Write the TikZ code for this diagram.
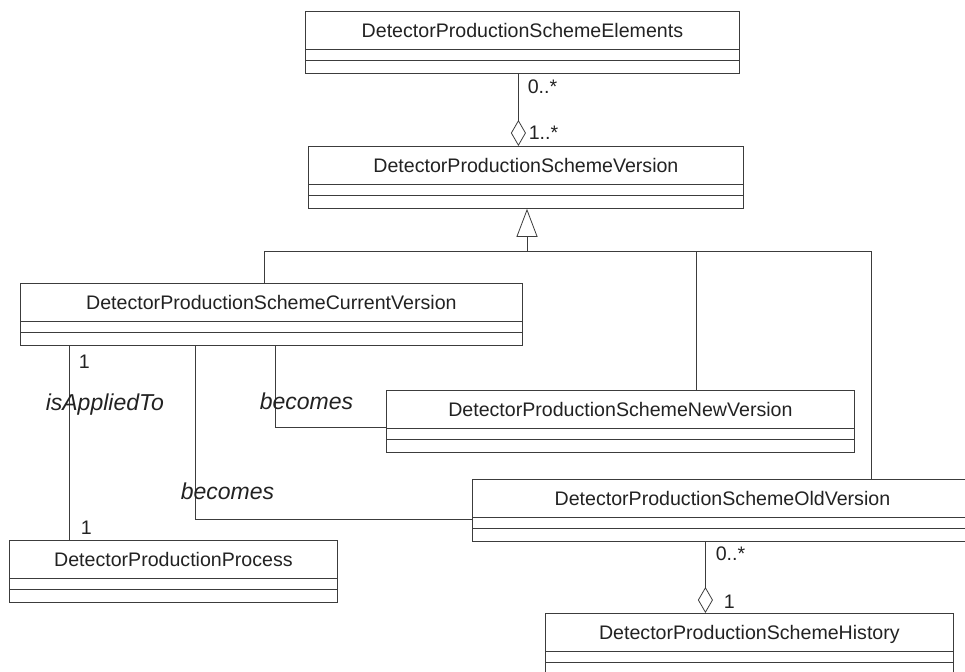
\documentclass[tikz,border=0pt]{standalone}
\usepackage{fontspec}
\newfontfamily\umlfont{Liberation Sans}
\usetikzlibrary{arrows.meta}
\definecolor{linec}{HTML}{3C3C3C}
\definecolor{textc}{HTML}{222222}

\begin{document}
\begin{tikzpicture}[x=1pt, y=-1pt,
  cls/.style={draw=linec, line width=0.8pt, inner sep=0pt, anchor=north west,
    text height=26pt, text depth=36pt, text=textc,
    font=\umlfont\fontsize{19.6}{24}\selectfont,
    path picture={\draw[linec, line width=0.8pt]
      ([yshift=-38pt]path picture bounding box.north west) -- ([yshift=-38pt]path picture bounding box.north east)
      ([yshift=-49pt]path picture bounding box.north west) -- ([yshift=-49pt]path picture bounding box.north east);}},
  conn/.style={draw=linec, line width=0.8pt},
  agg/.style={conn, -{Diamond[open, length=26pt, width=15pt]}},
  gen/.style={conn, -{Triangle[open, length=28pt, width=21pt]}},
  mult/.style={inner sep=0pt, text=textc, font=\umlfont\fontsize{19.6}{24}\selectfont},
  role/.style={inner sep=0pt, text=textc, font=\umlfont\itshape\fontsize{23}{28}\selectfont},
]
\useasboundingbox (0,0) rectangle (965,671);

% classes
\node[cls, minimum width=434pt] (elems) at (305,11) {DetectorProductionSchemeElements};
\node[cls, minimum width=435pt] (ver) at (308,146) {DetectorProductionSchemeVersion};
\node[cls, minimum width=502pt] (cur) at (20,283) {DetectorProductionSchemeCurrentVersion};
\node[cls, minimum width=468pt] (new) at (386,390) {DetectorProductionSchemeNewVersion};
\node[cls, minimum width=500pt] (old) at (472,479) {DetectorProductionSchemeOldVersion};
\node[cls, minimum width=328pt] (proc) at (9,540) {DetectorProductionProcess};
\node[cls, minimum width=408pt] (hist) at (545,613) {DetectorProductionSchemeHistory};

% aggregation
\draw[agg] ([xshift=-4pt]elems.south) -- ([xshift=-7.5pt]ver.north)
  node[mult, pos=0, anchor=base west, xshift=9pt, yshift=-20pt] {0..*}
  node[mult, pos=1, anchor=base west, xshift=10pt, yshift=6pt] {1..*};

% generalization
\coordinate (bus) at (527,251);
\draw[gen] (bus) -- (bus |- ver.south);
\draw[conn] (bus) -| ([xshift=-7pt]cur.north);
\draw[conn] (bus) -| ([xshift=76pt]new.north);
\draw[conn] (bus) -| ([xshift=149pt]old.north);

% associations
\draw[conn] ([xshift=-202pt]cur.south) -- ([xshift=-104pt]proc.north)
  node[mult, pos=0, anchor=base west, xshift=9pt, yshift=-23pt] {1}
  node[role, pos=0, anchor=base west, xshift=-24pt, yshift=-65pt] {isAppliedTo}
  node[mult, pos=1, anchor=base west, xshift=11pt, yshift=6pt] {1};
\draw[conn] ([xshift=4pt]cur.south) |- ([yshift=-37pt]new.north west)
  node[role, pos=0.5, anchor=base west, xshift=-16pt, yshift=18pt] {becomes};
\draw[conn] ([xshift=-76pt]cur.south) |- ([yshift=-40pt]old.north west)
  node[role, pos=0.5, anchor=base west, xshift=-15pt, yshift=20pt] {becomes};

\draw[agg] ([xshift=-17pt]old.south) -- ([xshift=-44pt]hist.north)
  node[mult, pos=0, anchor=base west, xshift=10pt, yshift=-19pt] {0..*}
  node[mult, pos=1, anchor=base west, xshift=18pt, yshift=5pt] {1};
\end{tikzpicture}
\end{document}
